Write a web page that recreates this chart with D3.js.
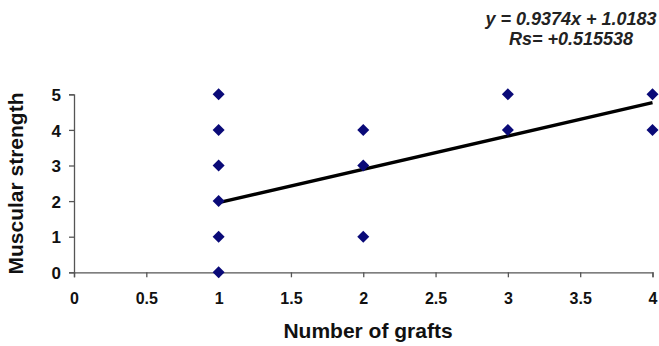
<!DOCTYPE html>
<html>
<head>
<meta charset="utf-8">
<script src="https://cdn.jsdelivr.net/npm/d3@7"></script>
<style>
  body { margin: 0; background: #fff; }
  svg { font-family: "Liberation Sans", Arial, sans-serif; }
</style>
</head>
<body>
<svg id="chart" width="659" height="346"></svg>
<script>
// grafts vs strength observations
var grafts = [1, 1, 1, 1, 1, 1, 2, 2, 2, 3, 3, 4, 4];
var strength = [0, 1, 2, 3, 4, 5, 1, 3, 4, 4, 5, 4, 5];
var xTicks = [0, 0.5, 1, 1.5, 2, 2.5, 3, 3.5, 4];
var yTicks = [0, 1, 2, 3, 4, 5];
var slope = 0.9374;
var intercept = 1.0183;
var trendRange = [1, 4];
var equationLines = ['y = 0.9374x + 1.0183', 'Rs= +0.515538'];

var svg = d3.select('#chart');
var x = d3.scaleLinear().domain([0, 4]).range([74, 652.5]);
var y = d3.scaleLinear().domain([0, 5]).range([272.3, 94.3]);

// axes
var xAxis = svg.append('g')
    .attr('transform', 'translate(0,' + y(0) + ')')
    .call(d3.axisBottom(x).tickValues(xTicks).tickSize(5).tickPadding(15)
        .tickFormat(d3.format('')));
var yAxis = svg.append('g')
    .attr('transform', 'translate(' + x(0) + ',0)')
    .call(d3.axisLeft(y).tickValues(yTicks).tickSize(5).tickPadding(8)
        .tickFormat(d3.format('d')));

[xAxis, yAxis].forEach(function(a){
    a.select('.domain').attr('stroke', '#555').attr('stroke-width', 1.3);
    a.selectAll('.tick line').attr('stroke', '#555').attr('stroke-width', 1.3);
    a.selectAll('.tick text')
        .attr('fill', '#111')
        .style('font-weight', 'bold');
});
xAxis.selectAll('.tick text').style('font-size', '16px');
yAxis.selectAll('.tick text').style('font-size', '17px').attr('dy', '0.36em');

// trend line
svg.append('line')
    .attr('x1', x(trendRange[0])).attr('y1', y(slope * trendRange[0] + intercept))
    .attr('x2', x(trendRange[1])).attr('y2', y(slope * trendRange[1] + intercept))
    .attr('stroke', '#000')
    .attr('stroke-width', 3.4);

// points
svg.append('g').selectAll('path')
    .data(grafts)
    .enter().append('path')
    .attr('d', 'M0,-6L6,0L0,6L-6,0Z')
    .attr('transform', function(d, i){ return 'translate(' + x(d) + ',' + y(strength[i]) + ')'; })
    .attr('fill', '#0a0a78');

// axis titles
svg.append('text')
    .attr('x', 368).attr('y', 338)
    .attr('text-anchor', 'middle')
    .style('font-size', '21px').style('font-weight', 'bold')
    .attr('fill', '#111')
    .text('Number of grafts');
svg.append('text')
    .attr('transform', 'translate(23,183.5) rotate(-90)')
    .attr('text-anchor', 'middle')
    .style('font-size', '21px').style('font-weight', 'bold')
    .attr('fill', '#111')
    .text('Muscular strength');

// equation
svg.append('g').selectAll('text')
    .data(equationLines)
    .enter().append('text')
    .attr('x', 571)
    .attr('y', function(d, i){ return 25 + i * 20; })
    .attr('text-anchor', 'middle')
    .style('font-size', '18px').style('font-weight', 'bold').style('font-style', 'italic')
    .attr('fill', '#222')
    .text(function(d){ return d; });
</script>
</body>
</html>
